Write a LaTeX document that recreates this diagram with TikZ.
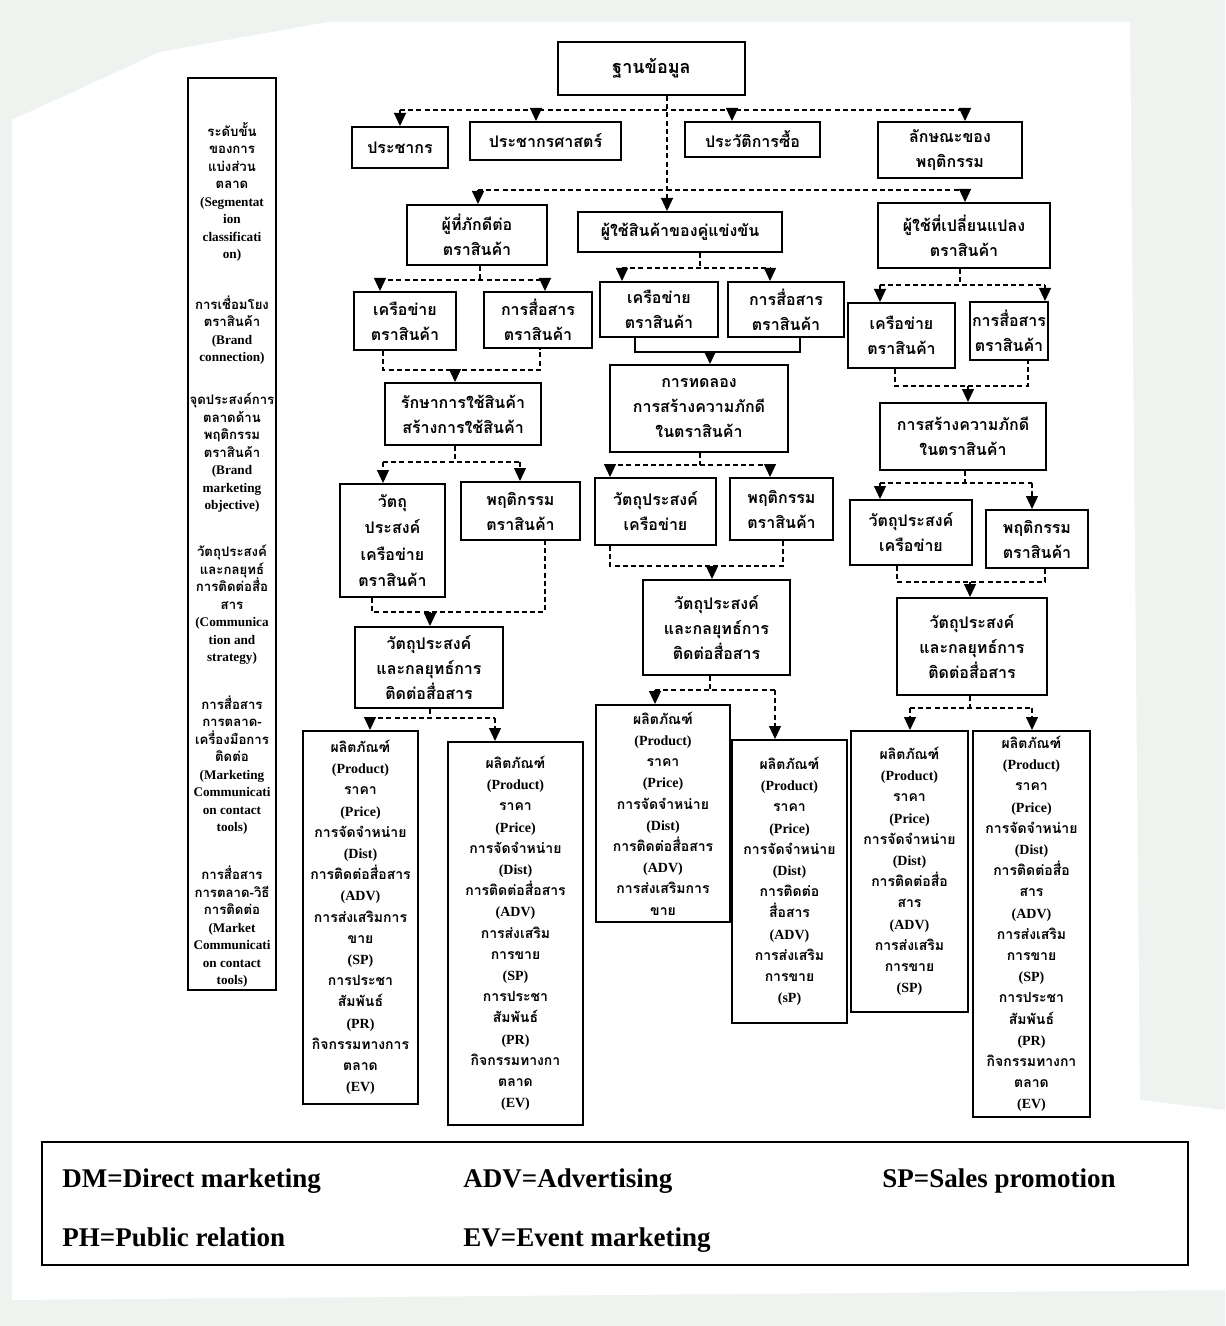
\documentclass[tikz,border=0pt]{standalone}
\usepackage{fontspec}
\setmainfont{Liberation Serif}
\newfontfamily\thai[Script=Thai]{Loma}
\usetikzlibrary{arrows.meta}
\newcommand\latn[1]{{\rmfamily\bfseries #1}}
% box from (x1,y1) to (x2,y2), coordinates in pixels, y downwards
\newcommand\bx[7][]{\node[cell,minimum width={(#5-#3)*0.5pt},minimum height={(#6-#4)*0.5pt},#1] (#2) at ({(#3+#5)/2},{(#4+#6)/2}) {#7};}
\definecolor{pagebg}{HTML}{EEF3F0}
\tikzset{
  cell/.style={draw, line width=1pt, inner sep=0pt, align=center,
    font=\thai\bfseries\fontsize{8}{12.5}\selectfont},
  tall/.style={font=\thai\bfseries\fontsize{7}{10.6}\selectfont},
  sidetext/.style={inner sep=0pt, align=center,
    font=\thai\bfseries\fontsize{6.6}{8.75}\selectfont},
  legtext/.style={inner sep=0pt, font=\bfseries\fontsize{13.5}{16}\selectfont},
  dl/.style={line width=0.6pt, dash pattern=on 2.5pt off 1.6pt},
  sl/.style={line width=0.8pt},
  arw/.style={-{Triangle[width=6pt,length=6.5pt]}},
}
\begin{document}
\begin{tikzpicture}[x=0.5pt,y=-0.5pt]
\useasboundingbox (0,0) rectangle (1225,1326);
\fill[pagebg] (0,0) rectangle (1225,1326);
\fill[white] (12,120) -- (160,52) -- (328,22) -- (1130,22) -- (1140,1100) -- (1225,1110)
  -- (1225,1290) -- (12,1300) -- cycle;

% side column with the levels
\node[draw, line width=1pt, minimum width=44pt, minimum height=456pt, inner sep=0pt] (lcol) at (232,534) {};
\node[sidetext] (l1) at (232,192) {ระดับขั้น\\ของการ\\แบ่งส่วน\\ตลาด\\\latn{(Segmentat}\\\latn{ion}\\\latn{classificati}\\\latn{on)}};
\node[sidetext] (l2) at (232,330) {การเชื่อมโยง\\ตราสินค้า\\\latn{(Brand}\\\latn{connection)}};
\node[sidetext] (l3) at (232,453) {จุดประสงค์การ\\ตลาดด้าน\\พฤติกรรม\\ตราสินค้า\\\latn{(Brand}\\\latn{marketing}\\\latn{objective)}};
\node[sidetext] (l4) at (232,605) {วัตถุประสงค์\\และกลยุทธ์\\การติดต่อสื่อ\\สาร\\\latn{(Communica}\\\latn{tion and}\\\latn{strategy)}};
\node[sidetext] (l5) at (232,765) {การสื่อสาร\\การตลาด-\\เครื่องมือการ\\ติดต่อ\\\latn{(Marketing}\\\latn{Communicati}\\\latn{on contact}\\\latn{tools)}};
\node[sidetext] (l6) at (232,927) {การสื่อสาร\\การตลาด-วิธี\\การติดต่อ\\\latn{(Market}\\\latn{Communicati}\\\latn{on contact}\\\latn{tools)}};

% top levels
\bx[font=\thai\bfseries\fontsize{9}{12}\selectfont]{db}{558}{42}{745}{95}{ฐานข้อมูล}
\bx{pop}{352}{127}{448}{168}{ประชากร}
\bx{demo}{470}{122}{621}{160}{ประชากรศาสตร์}
\bx{hist}{685}{122}{820}{157}{ประวัติการซื้อ}
\bx{char}{878}{122}{1022}{178}{ลักษณะของ\\พฤติกรรม}
\bx{loyal}{407}{205}{547}{265}{ผู้ที่ภักดีต่อ\\ตราสินค้า}
\bx{ucomp}{578}{212}{782}{252}{ผู้ใช้สินค้าของคู่แข่งขัน}
\bx{switch}{878}{203}{1050}{268}{ผู้ใช้ที่เปลี่ยนแปลง\\ตราสินค้า}

% first column
\bx{c1net}{354}{292}{456}{350}{เครือข่าย\\ตราสินค้า}
\bx{c1com}{484}{292}{592}{348}{การสื่อสาร\\ตราสินค้า}
\bx{c1keep}{385}{383}{541}{445}{รักษาการใช้สินค้า\\สร้างการใช้สินค้า}
\bx[font=\thai\bfseries\fontsize{8}{13.3}\selectfont]{c1obj}{340}{484}{445}{597}{วัตถุ\\ประสงค์\\เครือข่าย\\ตราสินค้า}
\bx{c1beh}{461}{482}{580}{540}{พฤติกรรม\\ตราสินค้า}
\bx{c1str}{355}{627}{503}{708}{วัตถุประสงค์\\และกลยุทธ์การ\\ติดต่อสื่อสาร}
\bx[tall]{c1a}{303}{731}{418}{1104}{ผลิตภัณฑ์\\\latn{(Product)}\\ราคา\\\latn{(Price)}\\การจัดจำหน่าย\\\latn{(Dist)}\\การติดต่อสื่อสาร\\\latn{(ADV)}\\การส่งเสริมการ\\ขาย\\\latn{(SP)}\\การประชา\\สัมพันธ์\\\latn{(PR)}\\กิจกรรมทางการ\\ตลาด\\\latn{(EV)}}
\bx[tall]{c1b}{448}{742}{583}{1125}{ผลิตภัณฑ์\\\latn{(Product)}\\ราคา\\\latn{(Price)}\\การจัดจำหน่าย\\\latn{(Dist)}\\การติดต่อสื่อสาร\\\latn{(ADV)}\\การส่งเสริม\\การขาย\\\latn{(SP)}\\การประชา\\สัมพันธ์\\\latn{(PR)}\\กิจกรรมทางกา\\ตลาด\\\latn{(EV)}}

% second column
\bx{c2net}{600}{282}{718}{337}{เครือข่าย\\ตราสินค้า}
\bx{c2com}{728}{282}{844}{337}{การสื่อสาร\\ตราสินค้า}
\bx{c2try}{610}{365}{788}{452}{การทดลอง\\การสร้างความภักดี\\ในตราสินค้า}
\bx{c2obj}{595}{478}{716}{545}{วัตถุประสงค์\\เครือข่าย}
\bx{c2beh}{730}{478}{833}{540}{พฤติกรรม\\ตราสินค้า}
\bx{c2str}{643}{580}{790}{675}{วัตถุประสงค์\\และกลยุทธ์การ\\ติดต่อสื่อสาร}
\bx[tall]{c2a}{596}{705}{730}{922}{ผลิตภัณฑ์\\\latn{(Product)}\\ราคา\\\latn{(Price)}\\การจัดจำหน่าย\\\latn{(Dist)}\\การติดต่อสื่อสาร\\\latn{(ADV)}\\การส่งเสริมการ\\ขาย}
\bx[tall]{c2b}{732}{740}{847}{1023}{ผลิตภัณฑ์\\\latn{(Product)}\\ราคา\\\latn{(Price)}\\การจัดจำหน่าย\\\latn{(Dist)}\\การติดต่อ\\สื่อสาร\\\latn{(ADV)}\\การส่งเสริม\\การขาย\\\latn{(sP)}}

% third column
\bx{c3net}{848}{303}{955}{368}{เครือข่าย\\ตราสินค้า}
\bx{c3com}{970}{302}{1048}{360}{การสื่อสาร\\ตราสินค้า}
\bx{c3loy}{880}{403}{1046}{470}{การสร้างความภักดี\\ในตราสินค้า}
\bx{c3obj}{850}{500}{972}{565}{วัตถุประสงค์\\เครือข่าย}
\bx{c3beh}{986}{510}{1088}{568}{พฤติกรรม\\ตราสินค้า}
\bx{c3str}{897}{598}{1047}{695}{วัตถุประสงค์\\และกลยุทธ์การ\\ติดต่อสื่อสาร}
\bx[tall]{c3a}{851}{731}{968}{1012}{ผลิตภัณฑ์\\\latn{(Product)}\\ราคา\\\latn{(Price)}\\การจัดจำหน่าย\\\latn{(Dist)}\\การติดต่อสื่อ\\สาร\\\latn{(ADV)}\\การส่งเสริม\\การขาย\\\latn{(SP)}}
\bx[tall]{c3b}{973}{731}{1090}{1117}{ผลิตภัณฑ์\\\latn{(Product)}\\ราคา\\\latn{(Price)}\\การจัดจำหน่าย\\\latn{(Dist)}\\การติดต่อสื่อ\\สาร\\\latn{(ADV)}\\การส่งเสริม\\การขาย\\\latn{(SP)}\\การประชา\\สัมพันธ์\\\latn{(PR)}\\กิจกรรมทางกา\\ตลาด\\\latn{(EV)}}

% connectors from the data base
\draw[dl,arw] (db.south -| 667,0) -- (ucomp.north -| 667,0);
\draw[dl] (400,110) -- (965,110);
\draw[dl,arw] (400,110) -- (pop.north -| 400,0);
\draw[dl,arw] (536,110) -- (demo.north -| 536,0);
\draw[dl,arw] (732,110) -- (hist.north -| 732,0);
\draw[dl,arw] (965,110) -- (char.north -| 965,0);
\draw[dl] (478,190) -- (965,190);
\draw[dl,arw] (478,190) -- (loyal.north -| 478,0);
\draw[dl,arw] (965,190) -- (switch.north -| 965,0);

% first column connectors
\draw[dl] (loyal.south -| 480,0) -- (480,280);
\draw[dl] (380,280) -- (545,280);
\draw[dl,arw] (380,280) -- (c1net.north -| 380,0);
\draw[dl,arw] (545,280) -- (c1com.north -| 545,0);
\draw[dl] (c1net.south -| 383,0) -- (383,370) -- (540,370) -- (c1com.south -| 540,0);
\draw[dl,arw] (455,370) -- (c1keep.north -| 455,0);
\draw[dl] (c1keep.south -| 455,0) -- (455,462);
\draw[dl] (383,462) -- (520,462);
\draw[dl,arw] (383,462) -- (c1obj.north -| 383,0);
\draw[dl,arw] (520,462) -- (c1beh.north -| 520,0);
\draw[dl] (c1obj.south -| 372,0) -- (372,612) -- (545,612) -- (c1beh.south -| 545,0);
\draw[dl,arw] (430,612) -- (c1str.north -| 430,0);
\draw[dl] (c1str.south -| 430,0) -- (430,718);
\draw[dl] (370,718) -- (495,718);
\draw[dl,arw] (370,718) -- (c1a.north -| 370,0);
\draw[dl,arw] (495,718) -- (c1b.north -| 495,0);

% second column connectors
\draw[dl] (ucomp.south -| 700,0) -- (700,268);
\draw[dl] (622,268) -- (770,268);
\draw[dl,arw] (622,268) -- (c2net.north -| 622,0);
\draw[dl,arw] (770,268) -- (c2com.north -| 770,0);
\draw[sl] (c2net.south -| 635,0) -- (635,352) -- (800,352) -- (c2com.south -| 800,0);
\draw[sl,arw] (710,352) -- (c2try.north -| 710,0);
\draw[dl] (c2try.south -| 700,0) -- (700,465);
\draw[dl] (610,465) -- (770,465);
\draw[dl,arw] (610,465) -- (c2obj.north -| 610,0);
\draw[dl,arw] (770,465) -- (c2beh.north -| 770,0);
\draw[dl] (c2obj.south -| 610,0) -- (610,566) -- (783,566) -- (c2beh.south -| 783,0);
\draw[dl,arw] (712,566) -- (c2str.north -| 712,0);
\draw[dl] (c2str.south -| 710,0) -- (710,690);
\draw[dl] (655,690) -- (775,690);
\draw[dl,arw] (655,690) -- (c2a.north -| 655,0);
\draw[dl,arw] (775,690) -- (c2b.north -| 775,0);

% third column connectors
\draw[dl] (switch.south -| 960,0) -- (960,285);
\draw[dl] (880,285) -- (1045,285);
\draw[dl,arw] (880,285) -- (c3net.north -| 880,0);
\draw[dl,arw] (1045,285) -- (c3com.north -| 1045,0);
\draw[dl] (c3net.south -| 895,0) -- (895,386) -- (1028,386) -- (c3com.south -| 1028,0);
\draw[dl,arw] (968,386) -- (c3loy.north -| 968,0);
\draw[dl] (c3loy.south -| 965,0) -- (965,483);
\draw[dl] (880,483) -- (1032,483);
\draw[dl,arw] (880,483) -- (c3obj.north -| 880,0);
\draw[dl,arw] (1032,483) -- (c3beh.north -| 1032,0);
\draw[dl] (c3obj.south -| 897,0) -- (897,582) -- (1045,582) -- (c3beh.south -| 1045,0);
\draw[dl,arw] (970,582) -- (c3str.north -| 970,0);
\draw[dl] (c3str.south -| 970,0) -- (970,708);
\draw[dl] (910,708) -- (1032,708);
\draw[dl,arw] (910,708) -- (c3a.north -| 910,0);
\draw[dl,arw] (1032,708) -- (c3b.north -| 1032,0);

% abbreviations
\node[draw, line width=1.2pt, minimum width=573pt, minimum height=61.5pt, inner sep=0pt] (legend) at (615,1203.5) {};
\node[legtext, anchor=base west] (dm) at (62,1187) {DM=Direct marketing};
\node[legtext, anchor=base west] (adv) at (463,1187) {ADV=Advertising};
\node[legtext, anchor=base west] (sp) at (882,1187) {SP=Sales promotion};
\node[legtext, anchor=base west] (ph) at (62,1246) {PH=Public relation};
\node[legtext, anchor=base west] (ev) at (463,1246) {EV=Event marketing};
\end{tikzpicture}
\end{document}
